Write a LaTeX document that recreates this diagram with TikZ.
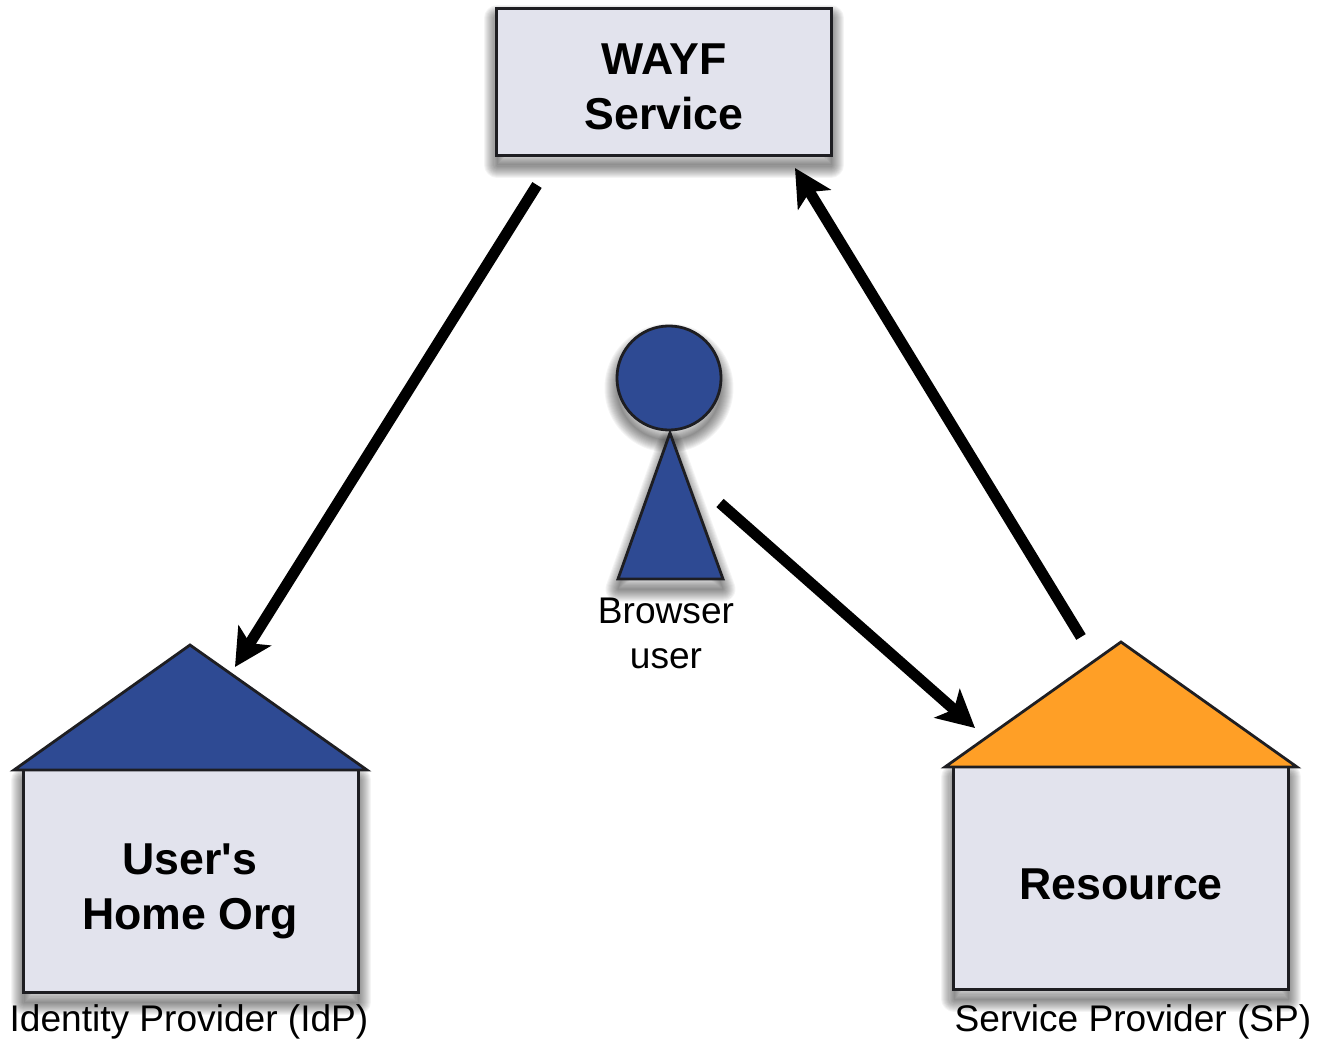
\documentclass[tikz,border=0pt]{standalone}
\usepackage{fontspec}
\setmainfont{Liberation Sans}
\usetikzlibrary{arrows.meta}
\definecolor{boxfill}{HTML}{E2E3ED}
\definecolor{userblue}{HTML}{2E4A93}
\definecolor{rooforange}{HTML}{FF9F26}
\definecolor{edgegray}{HTML}{1E1E22}
\newcommand{\softshadow}[1]{\foreach \w in {0.01,0.03,...,0.27}{\draw[shadowline, line width=\w cm] #1;}}
\begin{document}
\begin{tikzpicture}[x=0.01cm, y=-0.01cm,
		shadowline/.style = {black, opacity=0.045, line join=round, transform canvas={yshift=-0.1cm}},
		box/.style = {draw=edgegray, fill=boxfill, line width=0.03cm, inner sep=0pt},
		boxtext/.style = {inner sep=0pt, align=center, font=\fontsize{12.7}{15.6}\selectfont\bfseries},
		part/.style = {draw=edgegray, line width=0.028cm, line join=miter},
		caption/.style = {inner sep=0pt, align=center, font=\fontsize{10.55}{12.8}\selectfont},
		link/.style = {line width=0.11cm, black, -{Stealth[length=0.37cm, width=0.38cm, inset=0.09cm]}}]
		\useasboundingbox (0,0) rectangle (1317,1040);
		
		\coordinate (wayfNW) at (497,8);
		\coordinate (wayfSE) at (831,155);
		
		\coordinate (homeNW) at (24,770);
		\coordinate (homeSE) at (358,992);
		\coordinate (homeTop) at (190,645);
		\coordinate (homeL) at (14,770);
		\coordinate (homeR) at (367,770);
		
		\coordinate (resNW) at (954,767);
		\coordinate (resSE) at (1288,989);
		\coordinate (resTop) at (1121,642);
		\coordinate (resL) at (945,767);
		\coordinate (resR) at (1297,767);
		
		\coordinate (coneTop) at (670,433);
		\coordinate (coneL) at (618,579);
		\coordinate (coneR) at (723,579);
		
		\coordinate (wayfOut) at (537,185);
		\coordinate (homeIn) at (235,667);
		\coordinate (resOut) at (1081,637);
		\coordinate (wayfIn) at (795,168);
		\coordinate (userOut) at (720,503);
		\coordinate (resIn) at (975,728);
		
		\softshadow{(wayfNW) rectangle (wayfSE)}
		\softshadow{(homeNW) rectangle (homeSE)}
		\softshadow{(resNW) rectangle (resSE)}
		\softshadow{(669,378) circle (52)}
		\softshadow{(coneTop) -- (coneR) -- (coneL) -- cycle}
		
		\node[box, minimum width=3.34cm, minimum height=1.47cm] (wayf) at (664,82) {};
		\node[box, minimum width=3.34cm, minimum height=2.22cm] (home) at (191,881) {};
		\node[box, minimum width=3.34cm, minimum height=2.22cm] (res) at (1121,878) {};
		
		\node[boxtext] (wayfText) at (664,87) {WAYF\\Service};
		\node[boxtext] (homeText) at (190,891) {User\textquotesingle s\\Home Org};
		\node[boxtext] (resText) at (1121,884) {Resource};
		
		\draw[part, fill=userblue] (homeL) -- (homeTop) -- (homeR) -- cycle;
		\draw[part, fill=rooforange] (resL) -- (resTop) -- (resR) -- cycle;
		
		\draw[part, fill=userblue] (coneTop) -- (coneR) -- (coneL) -- cycle;
		\node[part, circle, fill=userblue, minimum size=1.04cm, inner sep=0pt] (head) at (669,378) {};
		
		\node[caption] (browser) at (666,633) {Browser\\user};
		\node[caption] (idp) at (189,1022) {Identity Provider (IdP)};
		\node[caption] (sp) at (1133,1022) {Service Provider (SP)};
		
		\draw[link] (wayfOut) -- (homeIn);
		\draw[link] (resOut) -- (wayfIn);
		\draw[link] (userOut) -- (resIn);
	\end{tikzpicture}
\end{document}
